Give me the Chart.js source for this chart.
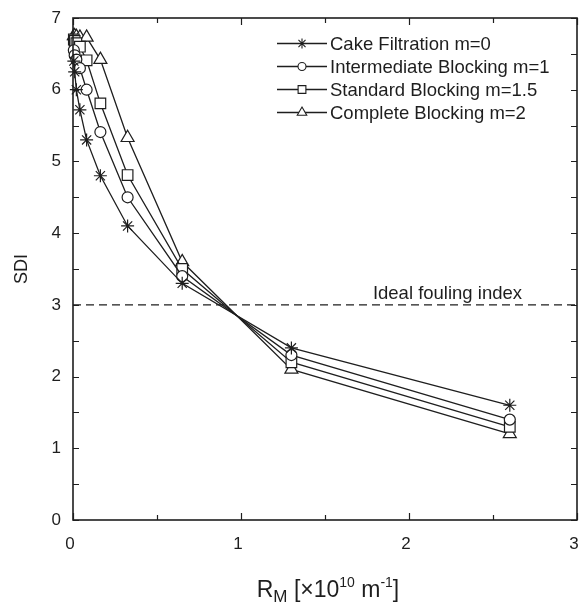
<!DOCTYPE html>
<html lang="en">
<head>
  <meta charset="UTF-8">
  <title>SDI vs membrane resistance</title>
  <script src="https://cdn.jsdelivr.net/npm/chart.js"></script>
  <style>
    body {
      margin: 0;
      padding: 0;
      background: #fff;
    }
    #wrap {
      width: 579px;
      height: 605px;
    }
  </style>
</head>
<body>
<div id="wrap"><canvas id="sdiChart"></canvas></div>

<script>
  // membrane resistance R_M (x10^10 1/m)
  const xValues = [0.005, 0.01, 0.02, 0.041, 0.081, 0.163, 0.325, 0.65, 1.3, 2.6];

  // SDI for each blocking law
  const cakeSDI = [6.4, 6.25, 6.0, 5.72, 5.3, 4.8, 4.1, 3.3, 2.4, 1.6];
  const intermediateSDI = [6.55, 6.48, 6.42, 6.3, 6.0, 5.41, 4.5, 3.4, 2.3, 1.4];
  const standardSDI = [6.7, 6.68, 6.65, 6.6, 6.41, 5.81, 4.81, 3.5, 2.2, 1.3];
  const completeSDI = [6.75, 6.75, 6.74, 6.73, 6.73, 6.42, 5.33, 3.6, 2.1, 1.2];

  const seriesLabels = [
    'Cake Filtration m=0',
    'Intermediate Blocking m=1',
    'Standard Blocking m=1.5',
    'Complete Blocking m=2'
  ];
  const pointStyles = ['star', 'circle', 'rect', 'triangle'];

  const xTicks = [0, 1, 2, 3];
  const yTicks = [0, 1, 2, 3, 4, 5, 6, 7];
  const idealIndex = 3;
  const idealLabel = 'Ideal fouling index';

  const ink = '#1e1e1e';
  const fontFamily = '"Liberation Sans", Arial, sans-serif';
  const radii = [6.5, 5.5, 7.5, 7.5];
  const legendRadii = [5, 4, 5.5, 5.5];

  const allSeries = [cakeSDI, intermediateSDI, standardSDI, completeSDI];

  const datasets = allSeries.map((vals, i) => ({
    label: seriesLabels[i],
    data: xValues.map((x, j) => ({ x: x, y: vals[j] })),
    borderColor: ink,
    borderWidth: 1.3,
    backgroundColor: '#fff',
    pointStyle: pointStyles[i],
    pointRadius: radii[i],
    pointBorderWidth: 1.2,
    pointBorderColor: ink,
    pointBackgroundColor: '#fff',
    tension: 0,
    clip: false
  }));

  datasets.push({
    label: idealLabel,
    data: [{ x: xTicks[0], y: idealIndex }, { x: xTicks[xTicks.length - 1], y: idealIndex }],
    borderColor: ink,
    borderWidth: 1.4,
    borderDash: [8, 5],
    pointRadius: 0,
    fill: false
  });

  const decorPlugin = {
    id: 'decor',
    afterDraw(chart) {
      const { ctx, chartArea: a, scales: { x, y } } = chart;
      ctx.save();
      ctx.strokeStyle = ink;
      ctx.fillStyle = ink;

      // frame
      ctx.lineWidth = 1.6;
      ctx.strokeRect(a.left, a.top, a.right - a.left, a.bottom - a.top);

      // inward ticks on all four sides
      ctx.lineWidth = 1.2;
      ctx.beginPath();
      for (let v = xTicks[0]; v <= xTicks[xTicks.length - 1] + 1e-9; v += 0.5) {
        const px = Math.round(x.getPixelForValue(v)) + 0.5;
        const len = Number.isInteger(v) ? 7 : 5;
        ctx.moveTo(px, a.bottom); ctx.lineTo(px, a.bottom - len);
        ctx.moveTo(px, a.top); ctx.lineTo(px, a.top + len);
      }
      for (let v = yTicks[0]; v <= yTicks[yTicks.length - 1] + 1e-9; v += 0.5) {
        const py = Math.round(y.getPixelForValue(v)) + 0.5;
        const len = 6;
        ctx.moveTo(a.left, py); ctx.lineTo(a.left + len, py);
        ctx.moveTo(a.right, py); ctx.lineTo(a.right - len, py);
      }
      ctx.stroke();

      // ideal fouling index label
      ctx.font = '18.5px ' + fontFamily;
      ctx.textAlign = 'left';
      ctx.textBaseline = 'alphabetic';
      ctx.fillText(idealLabel, x.getPixelForValue(1.785), y.getPixelForValue(idealIndex) - 6);

      // legend
      const lx0 = 277, lx1 = 327, tx = 330;
      seriesLabels.forEach((label, i) => {
        const ly = 43.5 + i * 23;
        ctx.lineWidth = 1.3;
        ctx.beginPath();
        ctx.moveTo(lx0, ly); ctx.lineTo(lx1, ly);
        ctx.stroke();
        ctx.fillStyle = '#fff';
        ctx.lineWidth = 1.1;
        Chart.helpers.drawPoint(ctx, {
          pointStyle: pointStyles[i],
          radius: legendRadii[i],
          rotation: 0,
          borderWidth: 1.1
        }, (lx0 + lx1) / 2, ly);
        ctx.fillStyle = ink;
        ctx.font = '18.5px ' + fontFamily;
        ctx.textBaseline = 'middle';
        ctx.fillText(label, tx, ly + 1);
      });

      // y title
      ctx.save();
      ctx.translate(22, (a.top + a.bottom) / 2);
      ctx.rotate(-Math.PI / 2);
      ctx.textAlign = 'center';
      ctx.textBaseline = 'middle';
      ctx.font = '18px ' + fontFamily;
      ctx.fillText('SDI', 0, 0);
      ctx.restore();

      // x title with sub/superscripts
      const parts = [
        { t: 'R', size: 23, dy: 0 },
        { t: 'M', size: 17, dy: 5 },
        { t: ' [\u00d710', size: 23, dy: 0 },
        { t: '10', size: 14, dy: -10 },
        { t: ' m', size: 23, dy: 0 },
        { t: '-1', size: 14, dy: -10 },
        { t: ']', size: 23, dy: 0 }
      ];
      ctx.textAlign = 'left';
      ctx.textBaseline = 'alphabetic';
      let total = 0;
      parts.forEach(p => {
        ctx.font = p.size + 'px ' + fontFamily;
        p.w = ctx.measureText(p.t).width;
        total += p.w;
      });
      let cx = (a.left + a.right) / 2 - total / 2 + 3;
      parts.forEach(p => {
        ctx.font = p.size + 'px ' + fontFamily;
        ctx.fillText(p.t, cx, 597 + p.dy);
        cx += p.w;
      });

      ctx.restore();
    }
  };

  Chart.defaults.font.family = fontFamily;
  Chart.defaults.color = ink;

  new Chart(document.getElementById('sdiChart'), {
    type: 'line',
    data: { datasets: datasets },
    plugins: [decorPlugin],
    options: {
      responsive: true,
      maintainAspectRatio: false,
      animation: false,
      layout: { autoPadding: false, padding: { top: 18, right: 2, left: 0, bottom: 0 } },
      plugins: {
        legend: { display: false },
        tooltip: { enabled: false }
      },
      scales: {
        x: {
          type: 'linear',
          min: xTicks[0],
          max: xTicks[xTicks.length - 1],
          afterBuildTicks: s => { s.ticks = xTicks.map(v => ({ value: v })); },
          afterFit: s => { s.height = 85; s.paddingLeft = 0; s.paddingRight = 0; },
          grid: { display: false, drawTicks: false },
          border: { display: false },
          ticks: { padding: 14, font: { size: 17 }, color: ink, maxRotation: 0, labelOffset: -3 }
        },
        y: {
          type: 'linear',
          min: yTicks[0],
          max: yTicks[yTicks.length - 1],
          afterBuildTicks: s => { s.ticks = yTicks.map(v => ({ value: v })); },
          afterFit: s => { s.width = 73; s.paddingTop = 0; s.paddingBottom = 0; },
          grid: { display: false, drawTicks: false },
          border: { display: false },
          ticks: { padding: 12, font: { size: 17 }, color: ink }
        }
      }
    }
  });
</script>
</body>
</html>
